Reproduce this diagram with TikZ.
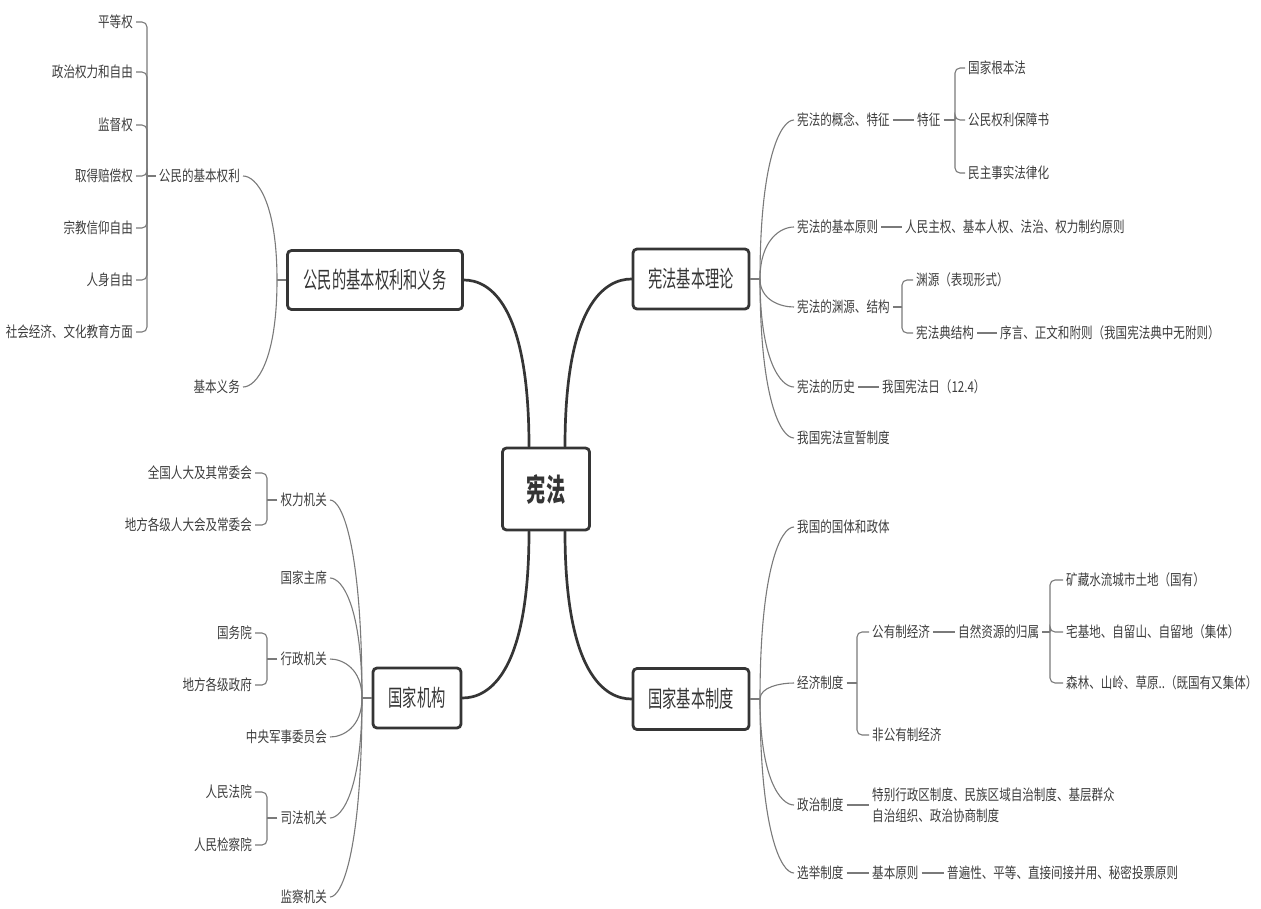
\documentclass[tikz,border=0pt]{standalone}
\usepackage{fontspec}
\setmainfont{Noto Sans CJK SC}[FakeStretch=0.77]
\newfontfamily\boxfont{Noto Sans CJK SC}[FakeStretch=0.62]
\usetikzlibrary{calc}
\definecolor{txt}{HTML}{3C3C3C}
\definecolor{boxc}{HTML}{353535}
\definecolor{linec}{HTML}{7A7A7A}
\tikzset{
  leaf/.style={font=\fontsize{15}{21}\selectfont, text=txt, inner sep=3pt},
  rt/.style={leaf, anchor=west},
  lt/.style={leaf, anchor=east},
  topic/.style={draw=boxc, line width=2.8pt, rounded corners=4pt, fill=white, text=boxc,
    font=\boxfont\fontsize{23}{26}\selectfont, inner sep=0pt},
  conn/.style={draw=linec, line width=1.1pt},
  mainline/.style={draw=boxc, line width=2.7pt, line cap=round},
}
\newcommand\fan[2]{\draw[conn] (#1) .. controls ($(#1 |- #2)!0.25!(#1)$) and ($(#1 |- #2)!0.6!(#2)$) .. (#2);}
\newcommand\mainfan[2]{\draw[mainline] (#1) .. controls ($(#1 |- #2)!0.15!(#1)$) and ($(#1 |- #2)!0.6!(#2)$) .. (#2);}
\newcommand\elbow[2]{\draw[conn, rounded corners=5pt] (#1) |- (#2);}
\begin{document}
\begin{tikzpicture}[x=1pt,y=-1pt]
\useasboundingbox (0,0) rectangle (1261,908);
% central topic
\node[topic, minimum width=87pt, minimum height=82pt, font=\boxfont\fontsize{31}{34}\selectfont\bfseries] (C) at (546,489) {宪法};
\node[topic, minimum width=116pt, minimum height=60pt] (T1) at (691,279) {宪法基本理论};
\node[topic, minimum width=116pt, minimum height=61pt] (T2) at (691,699) {国家基本制度};
\node[topic, minimum width=175pt, minimum height=59pt] (L1) at (375,280) {公民的基本权利和义务};
\node[topic, minimum width=88pt, minimum height=60pt] (L2) at (417,698) {国家机构};
\coordinate (cTL) at ($(C.north)+(-17,0)$);
\coordinate (cTR) at ($(C.north)+(19,0)$);
\coordinate (cBL) at ($(C.south)+(-17,0)$);
\coordinate (cBR) at ($(C.south)+(19,0)$);
\mainfan{cTL}{L1.east}
\mainfan{cTR}{T1.west}
\mainfan{cBL}{L2.east}
\mainfan{cBR}{T2.west}

% ---------- right top
\coordinate (o1) at (760,279);
\draw[conn] (T1.east) -- (o1);
\node[rt] (a1) at (794,120) {宪法的概念、特征};
\node[rt] (a1f) at (914,120) {特征};
\node[rt] (a1a) at (965,68) {国家根本法};
\node[rt] (a1b) at (965,120) {公民权利保障书};
\node[rt] (a1c) at (965,173) {民主事实法律化};
\node[rt] (a2) at (794,227) {宪法的基本原则};
\node[rt] (a2c) at (902,227) {人民主权、基本人权、法治、权力制约原则};
\node[rt] (a3) at (794,307) {宪法的渊源、结构};
\node[rt] (a3a) at (913,280) {渊源（表现形式）};
\node[rt] (a3b) at (913,333) {宪法典结构};
\node[rt] (a3c) at (997,333) {序言、正文和附则（我国宪法典中无附则）};
\node[rt] (a4) at (794,387) {宪法的历史};
\node[rt] (a4c) at (879,387) {我国宪法日（12.4）};
\node[rt] (a5) at (794,438) {我国宪法宣誓制度};
\fan{o1}{a1.west}
\fan{o1}{a2.west}
\fan{o1}{a3.west}
\fan{o1}{a4.west}
\fan{o1}{a5.west}
\draw[conn] (a1.east) -- (a1f.west);
\coordinate (k1) at (955,120);
\draw[conn] (a1f.east) -- (k1);
\elbow{k1}{a1a.west}
\elbow{k1}{a1b.west}
\elbow{k1}{a1c.west}
\draw[conn] (a2.east) -- (a2c.west);
\coordinate (k3) at (902,307);
\draw[conn] (a3.east) -- (k3);
\elbow{k3}{a3a.west}
\elbow{k3}{a3b.west}
\draw[conn] (a3b.east) -- (a3c.west);
\draw[conn] (a4.east) -- (a4c.west);

% ---------- right bottom
\coordinate (o2) at (760,699);
\draw[conn] (T2.east) -- (o2);
\node[rt] (b1) at (794,527) {我国的国体和政体};
\node[rt] (b2) at (794,683) {经济制度};
\node[rt] (b2a) at (869,632) {公有制经济};
\node[rt] (b2b) at (869,735) {非公有制经济};
\node[rt] (b2n) at (955,632) {自然资源的归属};
\node[rt] (b2x) at (1063,580) {矿藏水流城市土地（国有）};
\node[rt] (b2y) at (1063,632) {宅基地、自留山、自留地（集体）};
\node[rt] (b2z) at (1063,683) {森林、山岭、草原..（既国有又集体）};
\node[rt] (b3) at (794,805) {政治制度};
\node[rt, align=left] (b3c) at (869,805) {特别行政区制度、民族区域自治制度、基层群众\\自治组织、政治协商制度};
\node[rt] (b4) at (794,873) {选举制度};
\node[rt] (b4a) at (869,873) {基本原则};
\node[rt] (b4b) at (944,873) {普遍性、平等、直接间接并用、秘密投票原则};
\fan{o2}{b1.west}
\fan{o2}{b2.west}
\fan{o2}{b3.west}
\fan{o2}{b4.west}
\coordinate (k4) at (857,683);
\draw[conn] (b2.east) -- (k4);
\elbow{k4}{b2a.west}
\elbow{k4}{b2b.west}
\draw[conn] (b2a.east) -- (b2n.west);
\coordinate (k5) at (1050,632);
\draw[conn] (b2n.east) -- (k5);
\elbow{k5}{b2x.west}
\elbow{k5}{b2y.west}
\elbow{k5}{b2z.west}
\draw[conn] (b3.east) -- (b3.east -| b3c.west);
\draw[conn] (b4.east) -- (b4a.west);
\draw[conn] (b4a.east) -- (b4b.west);

% ---------- left top
\coordinate (o3) at (277,280);
\draw[conn] (L1.west) -- (o3);
\node[lt] (c1) at (243,176) {公民的基本权利};
\node[lt] (c2) at (243,387) {基本义务};
\node[lt] (c1a) at (136,22) {平等权};
\node[lt] (c1b) at (136,72) {政治权力和自由};
\node[lt] (c1c) at (136,125) {监督权};
\node[lt] (c1d) at (136,176) {取得赔偿权};
\node[lt] (c1e) at (136,228) {宗教信仰自由};
\node[lt] (c1f) at (136,280) {人身自由};
\node[lt] (c1g) at (136,332) {社会经济、文化教育方面};
\fan{o3}{c1.east}
\fan{o3}{c2.east}
\coordinate (k6) at (147,176);
\draw[conn] (c1.west) -- (k6);
\foreach \n in {c1a,c1b,c1c,c1d,c1e,c1f,c1g}{\elbow{k6}{\n.east}}

% ---------- left bottom
\coordinate (o4) at (362,698);
\draw[conn] (L2.west) -- (o4);
\node[lt] (d1) at (330,500) {权力机关};
\node[lt] (d2) at (330,578) {国家主席};
\node[lt] (d3) at (330,659) {行政机关};
\node[lt] (d4) at (330,737) {中央军事委员会};
\node[lt] (d5) at (330,818) {司法机关};
\node[lt] (d6) at (330,897) {监察机关};
\foreach \n in {d1,d2,d3,d4,d5,d6}{\fan{o4}{\n.east}}
\node[lt] (d1a) at (255,473) {全国人大及其常委会};
\node[lt] (d1b) at (255,525) {地方各级人大会及常委会};
\node[lt] (d3a) at (255,633) {国务院};
\node[lt] (d3b) at (255,685) {地方各级政府};
\node[lt] (d5a) at (255,792) {人民法院};
\node[lt] (d5b) at (255,845) {人民检察院};
\coordinate (k7) at (267,500);
\coordinate (k8) at (267,659);
\coordinate (k9) at (267,818);
\draw[conn] (d1.west) -- (k7);
\draw[conn] (d3.west) -- (k8);
\draw[conn] (d5.west) -- (k9);
\elbow{k7}{d1a.east}
\elbow{k7}{d1b.east}
\elbow{k8}{d3a.east}
\elbow{k8}{d3b.east}
\elbow{k9}{d5a.east}
\elbow{k9}{d5b.east}
\end{tikzpicture}
\end{document}
